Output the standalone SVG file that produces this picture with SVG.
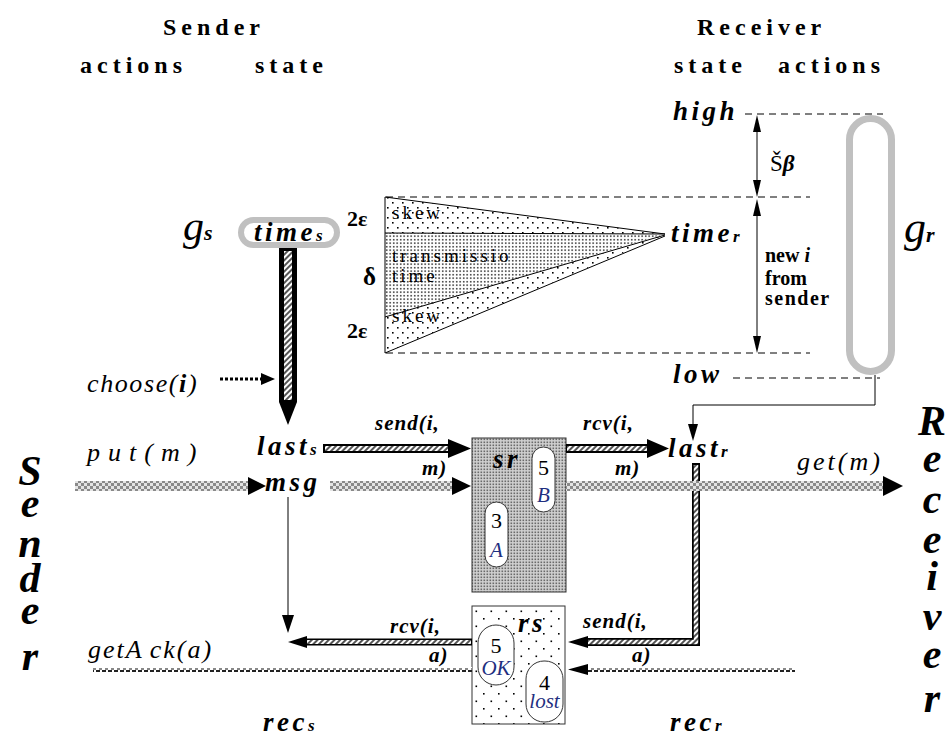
<svg xmlns="http://www.w3.org/2000/svg" width="949" height="739" viewBox="0 0 949 739" font-family="Liberation Serif, Times New Roman, serif">
  <defs>
    <style>
      text { fill: #000; }
      .hdr { font-size: 24px; font-weight: bold; letter-spacing: 5px; }
      .var { font-size: 27px; font-weight: bold; font-style: italic; letter-spacing: 3.5px; }
      .act { font-size: 26px; font-style: italic; }
      .msgl { font-size: 21px; font-weight: bold; font-style: italic; letter-spacing: 1px; }
      .big { font-size: 42px; font-weight: bold; font-style: italic; text-anchor: middle; }
      .note { font-size: 19px; letter-spacing: 3px; }
      .num { font-size: 22px; text-anchor: middle; }
      .let { font-size: 21px; font-style: italic; text-anchor: middle; fill: #1f2f80; }
      .dash { stroke: #000; stroke-width: 1; stroke-dasharray: 7 5; fill: none; }
      .thin { stroke: #000; stroke-width: 1; fill: none; }
      .pill { fill: #fff; stroke: #333; stroke-width: 1; }
    </style>
    <!-- sparse dot screen -->
    <pattern id="sparse" width="10" height="10" patternUnits="userSpaceOnUse">
      <rect x="2" y="2" width="1.6" height="1.6" fill="#000"/>
      <rect x="7" y="7" width="1.6" height="1.6" fill="#000"/>
    </pattern>
    <!-- dense dot screen -->
    <pattern id="dense" width="3.5" height="3.5" patternUnits="userSpaceOnUse">
      <rect x="1" y="1" width="1.4" height="1.4" fill="#000"/>
    </pattern>
    <!-- grey grain for the sr channel -->
    <pattern id="grain" width="3" height="3" patternUnits="userSpaceOnUse">
      <rect width="3" height="3" fill="#d0d0d0"/>
      <rect x="0.5" y="0.5" width="1.6" height="1.6" fill="#6a6a6a"/>
    </pattern>
    <!-- wide dots for the rs channel -->
    <pattern id="wide" width="15" height="15" patternUnits="userSpaceOnUse">
      <rect width="15" height="15" fill="#fff"/>
      <rect x="3" y="3" width="1.6" height="1.6" fill="#000"/>
      <rect x="10.5" y="10.5" width="1.6" height="1.6" fill="#000"/>
    </pattern>
    <!-- checkered message band -->
    <pattern id="check" width="6" height="6" patternUnits="userSpaceOnUse">
      <rect width="6" height="6" fill="#e4e4e4"/>
      <rect x="0" y="0" width="3" height="3" fill="#8a8a8a"/>
      <rect x="3" y="3" width="3" height="3" fill="#8a8a8a"/>
    </pattern>
    <!-- diagonal hatch -->
    <pattern id="hatch" width="4" height="4" patternUnits="userSpaceOnUse" patternTransform="rotate(45)">
      <rect width="4" height="4" fill="#fff"/>
      <rect width="2" height="4" fill="#555"/>
    </pattern>
    <!-- dotted acknowledgement band -->
    <pattern id="ackdots" width="6" height="5" patternUnits="userSpaceOnUse">
      <rect width="6" height="5" fill="#fff"/>
      <rect x="0" y="0" width="4" height="2" fill="#222"/>
      <rect x="3" y="3" width="3" height="2" fill="#888"/>
    </pattern>
  </defs>

  <rect width="949" height="739" fill="#fff"/>

  <!-- column headings -->
  <g id="headings">
    <text class="hdr" x="163" y="35">Sender</text>
    <text class="hdr" x="80" y="73">actions</text>
    <text class="hdr" x="255" y="73">state</text>
    <text class="hdr" x="697" y="35">Receiver</text>
    <text class="hdr" x="674" y="73">state</text>
    <text class="hdr" x="778" y="73">actions</text>
  </g>

  <!-- side captions -->
  <g id="sender-caption">
    <text class="big" x="30" y="485" font-weight="normal" font-size="46">S</text>
    <text class="big" x="30" y="517">e</text>
    <text class="big" x="30" y="557">n</text>
    <text class="big" x="30" y="592">d</text>
    <text class="big" x="30" y="624">e</text>
    <text class="big" x="30" y="670">r</text>
  </g>
  <g id="receiver-caption">
    <text class="big" x="932" y="435" font-weight="normal" font-size="46">R</text>
    <text class="big" x="932" y="472">e</text>
    <text class="big" x="932" y="513">c</text>
    <text class="big" x="932" y="553">e</text>
    <text class="big" x="932" y="590">i</text>
    <text class="big" x="932" y="630">v</text>
    <text class="big" x="932" y="668">e</text>
    <text class="big" x="932" y="712">r</text>
  </g>

  <!-- timing wedge: skew / transmission time / skew -->
  <g id="timing">
    <polygon points="385,197 665,234 385,233" fill="url(#sparse)"/>
    <polygon points="385,233 665,234 385,317" fill="url(#dense)"/>
    <polygon points="385,317 665,235 385,353" fill="url(#sparse)"/>
    <line class="thin" x1="385" y1="197" x2="385" y2="353"/>
    <line class="thin" x1="385" y1="197" x2="665" y2="234"/>
    <line class="thin" x1="385" y1="233" x2="665" y2="234"/>
    <line class="thin" x1="385" y1="317" x2="665" y2="235"/>
    <line class="thin" x1="385" y1="353" x2="665" y2="236"/>
    <text class="note" x="392" y="219">skew</text>
    <text class="note" x="392" y="262">transmissio</text>
    <text class="note" x="392" y="282">time</text>
    <text class="note" x="392" y="322">skew</text>
    <text x="347" y="226" font-size="22" font-weight="bold">2ε</text>
    <text x="363" y="285" font-size="25" font-weight="bold">δ</text>
    <text x="347" y="338" font-size="22" font-weight="bold">2ε</text>
  </g>

  <!-- receiver window: high / low -->
  <g id="window">
    <line class="dash" x1="745" y1="114" x2="883" y2="114"/>
    <line class="dash" x1="386" y1="197" x2="810" y2="197"/>
    <line class="dash" x1="386" y1="353" x2="810" y2="353"/>
    <line class="dash" x1="733" y1="378" x2="880" y2="378"/>
    <text class="var" x="673" y="120" letter-spacing="3">high</text>
    <text class="var" x="673" y="383" letter-spacing="5">low</text>
    <line class="thin" x1="757" y1="120" x2="757" y2="192"/>
    <polygon points="753,132 761,132 757,115"/>
    <polygon points="753,180 761,180 757,197"/>
    <line class="thin" x1="757" y1="204" x2="757" y2="348"/>
    <polygon points="753,216 761,216 757,199"/>
    <polygon points="753,336 761,336 757,353"/>
    <text x="770" y="171" font-size="23">Š<tspan font-weight="bold" font-style="italic">β</tspan></text>
    <text x="765" y="262" font-size="20" font-weight="bold">new <tspan font-style="italic">i</tspan></text>
    <text x="765" y="285" font-size="20" font-weight="bold">from</text>
    <text x="765" y="305" font-size="20" font-weight="bold" letter-spacing="1.5">sender</text>
  </g>

  <!-- g_s guard around times_s -->
  <g id="gs">
    <text x="183" y="240" font-size="42" font-style="italic">g<tspan font-size="22" font-weight="bold">s</tspan></text>
    <rect x="241" y="220" width="96" height="25" rx="12.5" fill="#fff" stroke="#c0c0c0" stroke-width="6"/>
    <text class="var" x="254" y="241" font-size="26">time<tspan font-size="17">s</tspan></text>
  </g>

  <!-- g_r guard -->
  <g id="gr">
    <rect x="849.5" y="118.5" width="42" height="253" rx="21" fill="none" stroke="#c0c0c0" stroke-width="7"/>
    <text x="904" y="242" font-size="44" font-style="italic">g<tspan font-size="22" font-weight="bold">r</tspan></text>
  </g>

  <!-- time_r -->
  <g id="timer">
    <text class="var" x="671" y="242" font-size="26">time<tspan font-size="17">r</tspan></text>
  </g>

  <!-- sender state -->
  <g id="lasts">
    <text class="var" x="257" y="455">last<tspan font-size="17">s</tspan></text>
  </g>
  <g id="msg">
    <text class="var" x="265" y="491" letter-spacing="4">msg</text>
  </g>

  <!-- receiver state -->
  <g id="lastr">
    <text class="var" x="668" y="457">last<tspan font-size="17">r</tspan></text>
  </g>

  <!-- sr channel -->
  <g id="sr">
    <rect x="472" y="438" width="94" height="154" fill="url(#grain)" stroke="#333" stroke-width="1"/>
    <text class="var" x="493" y="468" font-size="26" letter-spacing="1">sr</text>
    <rect class="pill" x="532" y="447" width="23" height="65" rx="11.5"/>
    <text class="num" x="543.5" y="475">5</text>
    <text class="let" x="543.5" y="502">B</text>
    <rect class="pill" x="485" y="502" width="23" height="65" rx="11.5"/>
    <text class="num" x="496.5" y="528">3</text>
    <text class="let" x="496.5" y="557">A</text>
  </g>

  <!-- rs channel -->
  <g id="rs">
    <rect x="472" y="606" width="93" height="118" fill="url(#wide)" stroke="#333" stroke-width="1"/>
    <text class="var" x="518" y="632" font-size="26" letter-spacing="1">rs</text>
    <rect class="pill" x="478" y="625" width="36" height="60" rx="18"/>
    <text class="num" x="496" y="653">5</text>
    <text class="let" x="496" y="675" font-size="17">OK</text>
    <rect class="pill" x="526" y="661" width="37" height="61" rx="18"/>
    <text class="num" x="544.5" y="690">4</text>
    <text class="let" x="544.5" y="708" font-size="17">lost</text>
  </g>

  <!-- actions -->
  <g id="actions">
    <text class="act" x="87" y="392" font-size="28" letter-spacing="1.6">choose(<tspan font-weight="bold">i</tspan>)</text>
    <text class="act" x="87" y="461" font-size="28" letter-spacing="8">put(m)</text>
    <text class="act" x="797" y="470" letter-spacing="3">get(m)</text>
    <text class="act" x="88" y="658" font-size="25" letter-spacing="2">getA<tspan dx="6">ck(a)</tspan></text>
    <text class="msgl" x="375" y="430">send(i,</text>
    <text class="msgl" x="422" y="475">m)</text>
    <text class="msgl" x="583" y="430">rcv(i,</text>
    <text class="msgl" x="615" y="475">m)</text>
    <text class="msgl" x="390" y="633">rcv(i,</text>
    <text class="msgl" x="429" y="662">a)</text>
    <text class="msgl" x="583" y="628">send(i,</text>
    <text class="msgl" x="632" y="662">a)</text>
    <text class="var" x="263" y="731" letter-spacing="1">rec<tspan font-size="17">s</tspan></text>
    <text class="var" x="670" y="731" letter-spacing="1">rec<tspan font-size="17">r</tspan></text>
  </g>

  <!-- connectors -->
  <g id="connectors">
    <!-- times_s to last_s -->
    <rect x="279" y="248" width="18" height="154" fill="#000"/>
    <rect x="284" y="251" width="8" height="149" fill="url(#hatch)"/>
    <polygon points="279,402 297,402 288,425"/>
    <!-- choose(i) -->
    <line x1="220" y1="379" x2="262" y2="379" stroke="#000" stroke-width="3" stroke-dasharray="3 2"/>
    <polygon points="261,373 275,379 261,385"/>
    <!-- g_r to last_r -->
    <polyline class="thin" points="875,375 875,405 693,405 693,426"/>
    <polygon points="688,424 698,424 693,441"/>
    <!-- msg down to the ack line -->
    <line class="thin" x1="288" y1="497" x2="288" y2="617"/>
    <polygon points="282,615 294,615 288,633"/>

    <!-- receiver send(i,a) path from last_r -->
    <path d="M696,463 L696,642 L586,642" fill="none" stroke="#000" stroke-width="8" stroke-linejoin="miter"/>
    <path d="M696,465 L696,642 L587,642" fill="none" stroke="url(#hatch)" stroke-width="4.5"/>
    <polygon points="588,636 568,642 588,648"/>

    <!-- message bands -->
    <rect x="75" y="481" width="175" height="10" fill="url(#check)"/>
    <polygon points="248,477 266,486 248,495"/>
    <rect x="330" y="481" width="123" height="10" fill="url(#check)"/>
    <polygon points="452,477 471,486 452,495"/>
    <rect x="566" y="481" width="318" height="10" fill="url(#check)"/>
    <polygon points="883,476 903,486 883,496"/>

    <!-- send(i,m) and rcv(i,m) -->
    <line x1="323" y1="448.5" x2="450" y2="448.5" stroke="#000" stroke-width="9"/>
    <line x1="325" y1="448.5" x2="449" y2="448.5" stroke="url(#hatch)" stroke-width="5"/>
    <polygon points="448,439 471,448.5 448,458"/>
    <line x1="566" y1="448.5" x2="650" y2="448.5" stroke="#000" stroke-width="9"/>
    <line x1="567" y1="448.5" x2="649" y2="448.5" stroke="url(#hatch)" stroke-width="5"/>
    <polygon points="647,439 669,448.5 647,458"/>

    <!-- rcv(i,a) to sender -->
    <line x1="472" y1="642" x2="304" y2="642" stroke="#000" stroke-width="7"/>
    <line x1="471" y1="642" x2="305" y2="642" stroke="url(#hatch)" stroke-width="4"/>
    <polygon points="307,636 288,642 307,648"/>

    <!-- dotted acknowledgement lines -->
    <rect x="93" y="667" width="379" height="5" fill="url(#ackdots)"/>
    <rect x="587" y="667" width="208" height="5" fill="url(#ackdots)"/>
    <polygon points="588,664 568,669.5 588,675"/>
  </g>
</svg>
